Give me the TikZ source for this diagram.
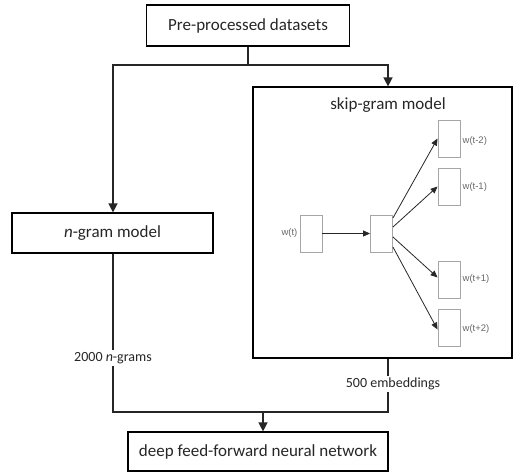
\documentclass[tikz,border=0pt]{standalone}
\usepackage{fontspec}
\setmainfont{Carlito}
\newfontfamily\arialfont{Liberation Sans}
\usetikzlibrary{arrows.meta}
\begin{document}
\begin{tikzpicture}[x=1pt,y=-1pt,
  box/.style={draw=black, line width=1.2pt, inner sep=0pt, font=\fontsize{17}{20}\selectfont, text=black!85},
  gbox/.style={draw=black!35, line width=0.9pt, inner sep=0pt, minimum width=22pt, minimum height=37pt},
  glabel/.style={font=\arialfont\fontsize{9.5}{11}\selectfont, text=black!60, inner sep=2pt},
  conn/.style={draw=black!85, line width=1.4pt},
  arr/.style={conn, -{Triangle[width=9pt,length=9pt]}},
  thin/.style={draw=black!85, line width=0.8pt, -{Triangle[width=6pt,length=7pt]}},
  lbl/.style={fill=white, inner sep=2pt, font=\fontsize{14}{16}\selectfont, text=black!85}]
\useasboundingbox (0,0) rectangle (513,472);
% main boxes
\node[box, minimum width=203pt, minimum height=41pt] (pre) at (248,25.5) {Pre-processed datasets};
\node[box, minimum width=201pt, minimum height=40pt] (ngram) at (112.5,233) {\textit{n}-gram model};
\node[box, minimum width=259pt, minimum height=271pt] (skip) at (382.5,222.5) {};
\node[font=\fontsize{17}{20}\selectfont, text=black!85] (skiptitle) at (388,105) {skip-gram model};
\node[box, minimum width=260pt, minimum height=39pt] (dnn) at (258,451.5) {deep feed-forward neural network};
% skip-gram inner network
\node[gbox] (win) at (311,233.5) {};
\node[gbox] (hid) at (381.5,233.5) {};
\node[gbox] (o1) at (449,138.5) {};
\node[gbox] (o2) at (449,186.5) {};
\node[gbox] (o3) at (449,279.5) {};
\node[gbox] (o4) at (449,327.5) {};
\node[glabel, anchor=east] (lwin) at (win.west) {w(t)};
\node[glabel, anchor=west] (lo1) at ([yshift=-3pt]o1.east) {w(t-2)};
\node[glabel, anchor=west] (lo2) at ([yshift=-1pt]o2.east) {w(t-1)};
\node[glabel, anchor=west] (lo3) at ([yshift=0pt]o3.east) {w(t+1)};
\node[glabel, anchor=west] (lo4) at ([yshift=-2pt]o4.east) {w(t+2)};
\draw[thin] (win.east) -- (hid.west);
\draw[thin] ([yshift=15.5pt]hid.east) -- (o1.west);
\draw[thin] ([yshift=6.5pt]hid.east) -- (o2.west);
\draw[thin] ([yshift=-3.5pt]hid.east) -- ([yshift=2pt]o3.west);
\draw[thin] ([yshift=-13.5pt]hid.east) -- ([yshift=-2pt]o4.west);
% connectors
\coordinate (j1) at (248,65);
\coordinate (jl) at (113,65);
\coordinate (jr) at (388,65);
\coordinate (jb) at (113,412);
\coordinate (jbr) at (388,412);
\coordinate (jm) at (263,412);
\draw[conn] (pre.south) -- (j1);
\draw[arr] (j1) -- (jl) -- (jl |- ngram.north);
\draw[arr] (j1) -- (jr) -- (jr |- skip.north);
\draw[conn] (jb |- ngram.south) -- (jb) -- (jbr) -- (jbr |- skip.south);
\draw[arr] (jm) -- (jm |- dnn.north);
\node[lbl] (l2000) at (113,358) {2000 \textit{n}-grams};
\node[lbl] (l500) at (393,384) {500 embeddings};
\end{tikzpicture}
\end{document}
